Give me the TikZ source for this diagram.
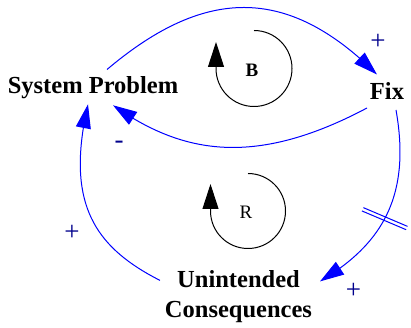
\documentclass[tikz,border=0pt]{standalone}
\usepackage{fontspec}
\setmainfont{Liberation Serif}
\usepackage{xcolor}
\usepackage{tikz}
\usetikzlibrary{arrows.meta,bending}
\definecolor{linkblue}{RGB}{0,0,255}
\definecolor{signblue}{RGB}{0,0,140}

\begin{document}
\begin{tikzpicture}[x=1pt,y=1pt,
  word/.style={font=\fontsize{24.5}{30}\selectfont\bfseries,inner sep=0pt,outer sep=0pt},
  loopsign/.style={font=\fontsize{19}{19}\selectfont,inner sep=0pt},
  sign/.style={font=\fontsize{27}{27}\selectfont,text=signblue,inner sep=0pt},
  link/.style={draw=linkblue,line width=1pt,-{Triangle[length=24pt,width=15pt]}},
  loopline/.style={draw=black,line width=1pt,-{Triangle[length=25pt,width=16pt]}}]
\useasboundingbox (0,0) rectangle (411,328);
\node[word,anchor=base](sp) at (93,234) {System Problem};
\node[word,anchor=base](fix) at (387,228) {Fix};
\node[word,anchor=north,align=center](uc) at (238.5,57.6) {Unintended\\Consequences};
\node[loopsign](b) at (252,258) {\textbf{B}};
\node[loopsign](r) at (246,116) {R};
% loop markers
\draw[loopline]([shift={(2,39.5)}]b.center) arc[start angle=90,end angle=-180,radius=38] -- ++(0,26.5);
\draw[loopline]([shift={(2,38.5)}]r.center) arc[start angle=90,end angle=-180,radius=37.5] -- ++(0,27);
% links
\draw[link]([shift={(14,7.5)}]sp.north) .. controls +(97,82) and +(-90,90) .. ([shift={(-10,8.5)}]fix.north);
\draw[link]([shift={(-20,-8)}]fix.south) .. controls +(-115,-61) and +(67,-47) .. ([shift={(20,-6)}]sp.south);
\draw[link]([shift={(9,-10)}]fix.south) .. controls +(15.7,-88.6) and +(60,36) .. ([shift={(8,-11)}]uc.north east)
  coordinate[pos=0.52](delay);
\draw[link]([shift={(-5,-10)}]uc.north west) .. controls +(-67,34) and +(-22.5,-97.4) .. ([shift={(-5,-5)}]sp.south);
\draw[linkblue,line width=1pt,shift={(delay)},rotate=-23](-24,1.8)--(24,1.8) (-24,-1.8)--(24,-1.8);
% polarities
\node[sign](p1) at (378,286.5) {+};
\node[sign](m2) at (119,183) {-};
\node[sign](p3) at (353.5,37.5) {+};
\node[sign](p4) at (72,95.5) {+};
\end{tikzpicture}
\end{document}
